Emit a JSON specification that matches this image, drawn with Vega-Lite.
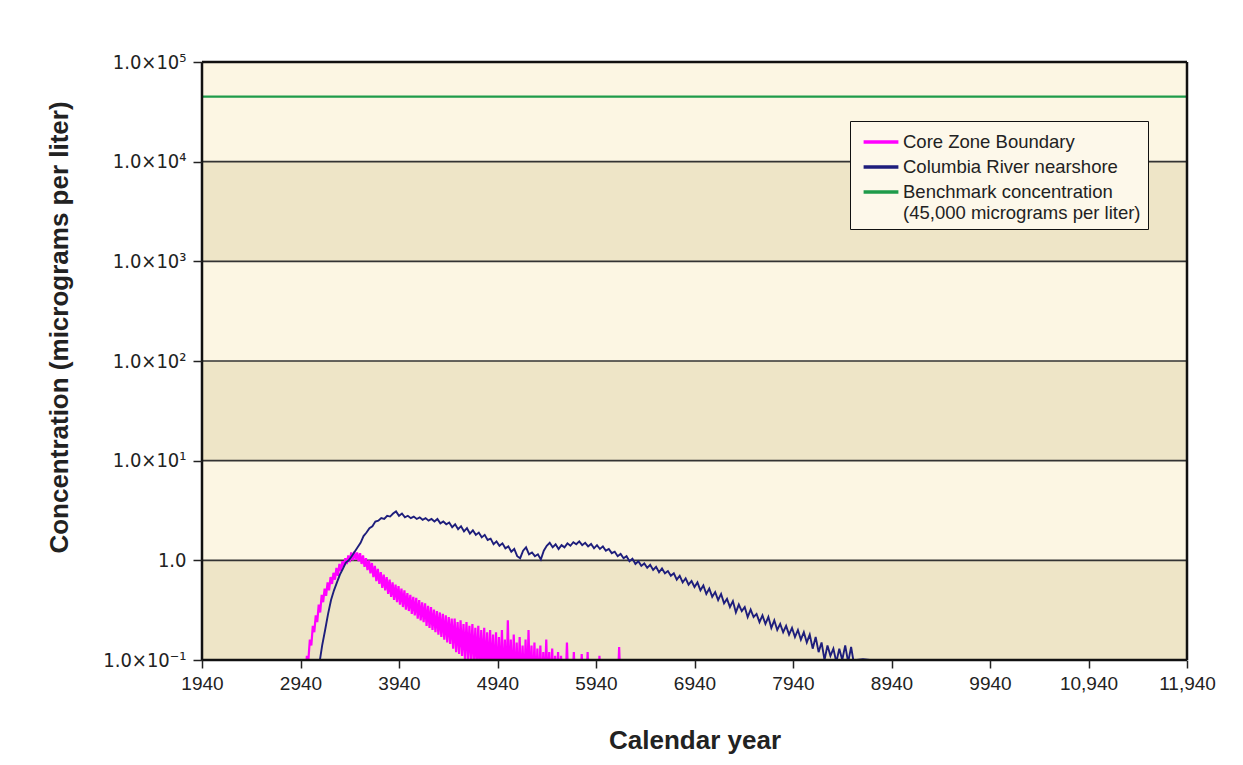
{
  "$schema": "https://vega.github.io/schema/vega-lite/v6.json",
  "width": 985,
  "height": 598,
  "autosize": {"type": "none"},
  "padding": {"left": 202, "top": 62, "right": 56, "bottom": 105},
  "background": "#ffffff",
  "config": {
    "font": "Liberation Sans",
    "view": {"stroke": null},
    "axis": {"labelFont": "Liberation Sans", "titleFont": "Liberation Sans", "labelColor": "#222", "titleColor": "#222", "domain": false, "grid": false, "tickColor": "#222", "tickWidth": 1.5}
  },
  "datasets": {
    "bands": [
      {"lo": 0.1, "hi": 1, "b": "dark"},
      {"lo": 1, "hi": 10, "b": "light"},
      {"lo": 10, "hi": 100, "b": "dark"},
      {"lo": 100, "hi": 1000, "b": "light"},
      {"lo": 1000, "hi": 10000, "b": "dark"},
      {"lo": 10000, "hi": 100000, "b": "light"}
    ],
    "grid": [{"c": 1}, {"c": 10}, {"c": 100}, {"c": 1000}, {"c": 10000}],
    "bench": [{"year": 1940, "c": 45000}, {"year": 11940, "c": 45000}],
    "core": [
      {"year":2990,"c":0.07},{"year":3005,"c":0.11},{"year":3020,"c":0.1},{"year":3035,"c":0.16},{"year":3050,"c":0.14},{"year":3065,"c":0.22},{"year":3080,"c":0.19},{"year":3095,"c":0.28},{"year":3110,"c":0.24},{"year":3125,"c":0.36},{"year":3140,"c":0.3},{"year":3155,"c":0.45},{"year":3170,"c":0.38},{"year":3185,"c":0.52},{"year":3200,"c":0.44},{"year":3215,"c":0.6},{"year":3230,"c":0.5},{"year":3245,"c":0.68},{"year":3260,"c":0.58},{"year":3275,"c":0.75},{"year":3290,"c":0.64},{"year":3305,"c":0.84},{"year":3320,"c":0.7},{"year":3335,"c":0.92},{"year":3350,"c":0.78},{"year":3365,"c":0.98},{"year":3380,"c":0.86},{"year":3395,"c":1.05},{"year":3410,"c":0.92},{"year":3425,"c":1.12},{"year":3440,"c":0.96},{"year":3455,"c":1.2},{"year":3470,"c":1.0},{"year":3485,"c":1.22},{"year":3500,"c":1.02},{"year":3515,"c":1.2},{"year":3530,"c":0.98},{"year":3545,"c":1.18},{"year":3560,"c":0.92},{"year":3575,"c":1.12},{"year":3590,"c":0.86},{"year":3605,"c":1.05},{"year":3620,"c":0.8},{"year":3635,"c":1.0},{"year":3650,"c":0.74},{"year":3665,"c":0.94},{"year":3680,"c":0.68},{"year":3695,"c":0.88},{"year":3710,"c":0.62},{"year":3725,"c":0.82},{"year":3740,"c":0.58},{"year":3755,"c":0.76},{"year":3770,"c":0.53},{"year":3785,"c":0.72},{"year":3800,"c":0.5},{"year":3815,"c":0.68},{"year":3830,"c":0.46},{"year":3845,"c":0.64},{"year":3860,"c":0.43},{"year":3875,"c":0.6},{"year":3890,"c":0.4},{"year":3905,"c":0.57},{"year":3920,"c":0.38},{"year":3935,"c":0.55},{"year":3950,"c":0.36},{"year":3965,"c":0.52},{"year":3980,"c":0.34},{"year":3995,"c":0.5},{"year":4010,"c":0.32},{"year":4025,"c":0.47},{"year":4040,"c":0.31},{"year":4055,"c":0.45},{"year":4070,"c":0.29},{"year":4085,"c":0.43},{"year":4100,"c":0.28},{"year":4115,"c":0.42},{"year":4130,"c":0.26},{"year":4145,"c":0.4},{"year":4160,"c":0.25},{"year":4175,"c":0.38},{"year":4190,"c":0.24},{"year":4205,"c":0.37},{"year":4220,"c":0.22},{"year":4235,"c":0.35},{"year":4250,"c":0.21},{"year":4265,"c":0.34},{"year":4280,"c":0.2},{"year":4295,"c":0.32},{"year":4310,"c":0.19},{"year":4325,"c":0.31},{"year":4340,"c":0.18},{"year":4355,"c":0.3},{"year":4370,"c":0.17},{"year":4385,"c":0.29},{"year":4400,"c":0.16},{"year":4415,"c":0.28},{"year":4430,"c":0.15},{"year":4445,"c":0.27},{"year":4460,"c":0.145},{"year":4475,"c":0.26},
      {"year":4490,"c":0.13},{"year":4505,"c":0.26},{"year":4520,"c":0.12},{"year":4535,"c":0.24},{"year":4550,"c":0.115},{"year":4565,"c":0.25},{"year":4580,"c":0.11},{"year":4595,"c":0.23},{"year":4610,"c":0.1},{"year":4625,"c":0.24},{"year":4640,"c":0.1},{"year":4655,"c":0.22},{"year":4670,"c":0.095},{"year":4685,"c":0.23},{"year":4700,"c":0.09},{"year":4715,"c":0.21},{"year":4730,"c":0.085},{"year":4745,"c":0.22},{"year":4760,"c":0.08},{"year":4775,"c":0.2},{"year":4790,"c":0.08},{"year":4805,"c":0.21},{"year":4820,"c":0.075},{"year":4835,"c":0.19},{"year":4850,"c":0.07},{"year":4865,"c":0.2},{"year":4880,"c":0.07},{"year":4895,"c":0.18},{"year":4910,"c":0.065},{"year":4925,"c":0.19},{"year":4940,"c":0.06},{"year":4955,"c":0.17},{"year":4970,"c":0.06},{"year":4985,"c":0.2},{"year":5000,"c":0.055},{"year":5015,"c":0.16},{"year":5030,"c":0.05},{"year":5045,"c":0.25},{"year":5060,"c":0.05},{"year":5075,"c":0.16},{"year":5090,"c":0.05},{"year":5105,"c":0.18},{"year":5120,"c":0.05},{"year":5135,"c":0.15},{"year":5150,"c":0.05},{"year":5165,"c":0.17},{"year":5180,"c":0.05},{"year":5195,"c":0.14},{"year":5210,"c":0.05},{"year":5225,"c":0.16},{"year":5240,"c":0.05},{"year":5255,"c":0.2},{"year":5270,"c":0.05},{"year":5285,"c":0.14},{"year":5300,"c":0.05},{"year":5315,"c":0.15},{"year":5330,"c":0.05},{"year":5345,"c":0.13},{"year":5360,"c":0.05},{"year":5375,"c":0.14},{"year":5390,"c":0.05},{"year":5405,"c":0.12},{"year":5420,"c":0.05},{"year":5435,"c":0.16},{"year":5450,"c":0.05},{"year":5465,"c":0.12},{"year":5480,"c":0.05},{"year":5495,"c":0.13},{"year":5510,"c":0.05},{"year":5525,"c":0.11},{"year":5540,"c":0.05},{"year":5555,"c":0.12},{"year":5570,"c":0.05},{"year":5585,"c":0.11},{"year":5600,"c":0.05},{"year":5630,"c":0.05},{"year":5645,"c":0.15},{"year":5660,"c":0.05},{"year":5700,"c":0.05},{"year":5715,"c":0.12},{"year":5730,"c":0.05},{"year":5780,"c":0.05},{"year":5795,"c":0.115},{"year":5810,"c":0.05},{"year":5840,"c":0.05},{"year":5855,"c":0.12},{"year":5870,"c":0.05},{"year":5960,"c":0.05},{"year":5975,"c":0.11},{"year":5990,"c":0.05},{"year":6160,"c":0.05},{"year":6175,"c":0.135},{"year":6190,"c":0.05}
    ],
    "river": [
      {"year":3100,"c":0.05},{"year":3130,"c":0.09},{"year":3160,"c":0.14},{"year":3190,"c":0.2},{"year":3220,"c":0.29},{"year":3250,"c":0.4},{"year":3280,"c":0.5},{"year":3310,"c":0.6},{"year":3340,"c":0.72},{"year":3370,"c":0.82},{"year":3400,"c":0.95},{"year":3430,"c":1.0},{"year":3460,"c":1.1},{"year":3490,"c":1.22},{"year":3520,"c":1.35},{"year":3550,"c":1.5},{"year":3580,"c":1.75},{"year":3610,"c":1.9},{"year":3640,"c":2.1},{"year":3670,"c":2.2},{"year":3700,"c":2.45},{"year":3730,"c":2.5},{"year":3760,"c":2.65},{"year":3790,"c":2.6},{"year":3820,"c":2.8},{"year":3850,"c":2.75},{"year":3880,"c":2.95},{"year":3910,"c":3.1},{"year":3940,"c":2.8},{"year":3970,"c":2.95},{"year":4000,"c":2.7},{"year":4030,"c":2.8},{"year":4060,"c":2.65},{"year":4090,"c":2.75},{"year":4120,"c":2.6},{"year":4150,"c":2.7},{"year":4180,"c":2.55},{"year":4210,"c":2.65},{"year":4240,"c":2.5},{"year":4270,"c":2.6},{"year":4300,"c":2.45},{"year":4330,"c":2.6},{"year":4360,"c":2.35},{"year":4390,"c":2.45},{"year":4420,"c":2.3},{"year":4450,"c":2.4},{"year":4480,"c":2.15},{"year":4510,"c":2.3},{"year":4540,"c":2.05},{"year":4570,"c":2.2},{"year":4600,"c":1.95},{"year":4630,"c":2.1},{"year":4660,"c":1.85},{"year":4690,"c":2.0},{"year":4720,"c":1.8},{"year":4750,"c":1.9},{"year":4780,"c":1.7},{"year":4810,"c":1.8},{"year":4840,"c":1.6},{"year":4870,"c":1.65},{"year":4900,"c":1.45},{"year":4930,"c":1.55},{"year":4960,"c":1.4},{"year":4990,"c":1.48},{"year":5020,"c":1.32},{"year":5050,"c":1.38},{"year":5080,"c":1.22},{"year":5110,"c":1.3},{"year":5140,"c":1.1},{"year":5170,"c":1.05},{"year":5200,"c":1.25},{"year":5230,"c":1.35},{"year":5260,"c":1.15},{"year":5290,"c":1.2},{"year":5320,"c":1.1},{"year":5350,"c":1.15},{"year":5380,"c":1.02},{"year":5410,"c":1.25},{"year":5440,"c":1.4},{"year":5470,"c":1.5},{"year":5500,"c":1.35},{"year":5530,"c":1.45},{"year":5560,"c":1.3},{"year":5590,"c":1.42},{"year":5620,"c":1.35},{"year":5650,"c":1.48},{"year":5680,"c":1.4},{"year":5710,"c":1.52},{"year":5740,"c":1.45},{"year":5770,"c":1.55},{"year":5800,"c":1.42},{"year":5830,"c":1.5},{"year":5860,"c":1.38},{"year":5890,"c":1.46},{"year":5920,"c":1.32},{"year":5950,"c":1.42},{"year":5980,"c":1.3},{"year":6010,"c":1.38},{"year":6040,"c":1.25},{"year":6070,"c":1.3},{"year":6100,"c":1.18},{"year":6130,"c":1.22},{"year":6160,"c":1.1},{"year":6190,"c":1.16},{"year":6220,"c":1.05},{"year":6250,"c":1.1},{"year":6280,"c":0.98},{"year":6310,"c":1.04},{"year":6340,"c":0.92},{"year":6370,"c":0.98},{"year":6400,"c":0.88},{"year":6430,"c":0.93},{"year":6460,"c":0.84},{"year":6490,"c":0.9},{"year":6520,"c":0.8},{"year":6550,"c":0.86},{"year":6580,"c":0.76},{"year":6610,"c":0.83},{"year":6640,"c":0.74},{"year":6670,"c":0.78},{"year":6700,"c":0.7},{"year":6730,"c":0.74},{"year":6760,"c":0.64},{"year":6790,"c":0.7},{"year":6820,"c":0.6},{"year":6850,"c":0.66},{"year":6880,"c":0.57},{"year":6910,"c":0.62},{"year":6940,"c":0.54},{"year":6970,"c":0.6},{"year":7000,"c":0.5},{"year":7030,"c":0.56},{"year":7060,"c":0.46},{"year":7090,"c":0.52},{"year":7120,"c":0.43},{"year":7150,"c":0.48},{"year":7180,"c":0.4},{"year":7210,"c":0.46},{"year":7240,"c":0.37},{"year":7270,"c":0.41},{"year":7300,"c":0.34},{"year":7330,"c":0.39},{"year":7360,"c":0.3},{"year":7390,"c":0.36},{"year":7420,"c":0.31},{"year":7450,"c":0.34},{"year":7480,"c":0.27},{"year":7510,"c":0.32},{"year":7540,"c":0.27},{"year":7570,"c":0.29},{"year":7600,"c":0.24},{"year":7630,"c":0.28},{"year":7660,"c":0.23},{"year":7690,"c":0.27},{"year":7720,"c":0.21},{"year":7750,"c":0.25},{"year":7780,"c":0.2},{"year":7810,"c":0.23},{"year":7840,"c":0.19},{"year":7870,"c":0.22},{"year":7900,"c":0.18},{"year":7930,"c":0.21},{"year":7960,"c":0.17},{"year":7990,"c":0.2},{"year":8020,"c":0.16},{"year":8050,"c":0.19},{"year":8080,"c":0.15},{"year":8110,"c":0.18},{"year":8140,"c":0.13},{"year":8170,"c":0.17},{"year":8200,"c":0.12},{"year":8230,"c":0.15},{"year":8260,"c":0.1},{"year":8290,"c":0.14},{"year":8320,"c":0.11},{"year":8350,"c":0.13},{"year":8380,"c":0.095},{"year":8410,"c":0.13},{"year":8440,"c":0.1},{"year":8470,"c":0.14},{"year":8500,"c":0.095},{"year":8530,"c":0.135},{"year":8560,"c":0.09},{"year":8590,"c":0.1},{"year":8650,"c":0.102},{"year":8720,"c":0.1},{"year":8800,"c":0.1}
    ]
  },
  "layer": [
    {
      "data": {"name": "bands"},
      "mark": {"type": "rect", "clip": true},
      "encoding": {
        "x": {"datum": 1940, "type": "quantitative", "scale": {"domain": [1940, 11940], "nice": false, "zero": false},
          "axis": {"values": [1940, 2940, 3940, 4940, 5940, 6940, 7940, 8940, 9940, 10940, 11940], "labelExpr": "datum.value >= 10000 ? format(datum.value, ',') : format(datum.value, 'd')", "title": "Calendar year", "labelFontSize": 19, "tickSize": 8, "labelPadding": 6, "titleFontSize": 26, "titleFontWeight": "bold", "titlePadding": 34, "labelFlush": false, "zindex": 1}},
        "x2": {"datum": 11940},
        "y": {"field": "lo", "type": "quantitative", "scale": {"type": "log", "domain": [0.1, 100000], "nice": false},
          "axis": {"values": [0.1, 1, 10, 100, 1000, 10000, 100000], "labelExpr": "datum.value == 1 ? '1.0' : datum.value == 0.1 ? '1.0×10⁻¹' : datum.value == 10 ? '1.0×10¹' : datum.value == 100 ? '1.0×10²' : datum.value == 1000 ? '1.0×10³' : datum.value == 10000 ? '1.0×10⁴' : '1.0×10⁵'", "title": "Concentration (micrograms per liter)", "labelFont": "DejaVu Sans Condensed", "labelFontSize": 20, "tickSize": 9, "labelPadding": 7, "titleFontSize": 26, "titleFontWeight": "bold", "titlePadding": 30, "titleY": 265, "labelFlush": false, "zindex": 1}},
        "y2": {"field": "hi"},
        "fill": {"field": "b", "type": "nominal", "scale": {"domain": ["light", "dark"], "range": ["#FCF6E3", "#EEE5C7"]}, "legend": null}
      }
    },
    {
      "data": {"name": "grid"},
      "mark": {"type": "rule", "color": "#333333", "strokeWidth": 1.6},
      "encoding": {"y": {"field": "c", "type": "quantitative"}}
    },
    {
      "data": {"name": "bench"},
      "mark": {"type": "line", "strokeWidth": 2.2, "clip": true},
      "encoding": {
        "x": {"field": "year", "type": "quantitative"},
        "y": {"field": "c", "type": "quantitative"},
        "color": {"datum": "Benchmark concentration", "type": "nominal",
          "scale": {"domain": ["Core Zone Boundary", "Columbia River nearshore", "Benchmark concentration"], "range": ["#FF00FF", "#1E1E7C", "#1E9B4A"]},
          "legend": {"orient": "none", "legendX": 648, "legendY": 59, "title": null, "symbolType": "M-1.45,0H1.45", "symbolStrokeWidth": 3.5, "symbolSize": 576, "symbolOffset": 10, "labelFont": "Liberation Sans", "labelFontSize": 18.5, "labelColor": "#222", "fillColor": "#FDF8EA", "strokeColor": "#111111", "padding": 7, "rowPadding": 1, "labelLimit": 400, "labelOffset": 8,
            "labelExpr": "datum.label == 'Benchmark concentration' ? ['Benchmark concentration', '(45,000 micrograms per liter)'] : datum.label"}}
      }
    },
    {
      "data": {"name": "core"},
      "mark": {"type": "line", "strokeWidth": 2.2, "clip": true},
      "encoding": {
        "x": {"field": "year", "type": "quantitative"},
        "y": {"field": "c", "type": "quantitative"},
        "color": {"datum": "Core Zone Boundary", "type": "nominal"}
      }
    },
    {
      "data": {"name": "river"},
      "mark": {"type": "line", "strokeWidth": 1.9, "clip": true},
      "encoding": {
        "x": {"field": "year", "type": "quantitative"},
        "y": {"field": "c", "type": "quantitative"},
        "color": {"datum": "Columbia River nearshore", "type": "nominal"}
      }
    },
    {
      "data": {"values": [{}]},
      "mark": {"type": "rule", "color": "#111111", "strokeWidth": 2.5},
      "encoding": {"y": {"datum": 100000}}
    },
    {
      "data": {"values": [{}]},
      "mark": {"type": "rule", "color": "#111111", "strokeWidth": 2.5},
      "encoding": {"y": {"datum": 0.1}}
    },
    {
      "data": {"values": [{}]},
      "mark": {"type": "rule", "color": "#111111", "strokeWidth": 2.5},
      "encoding": {"x": {"datum": 1940}}
    },
    {
      "data": {"values": [{}]},
      "mark": {"type": "rule", "color": "#111111", "strokeWidth": 2.5},
      "encoding": {"x": {"datum": 11940}}
    }
  ]
}
